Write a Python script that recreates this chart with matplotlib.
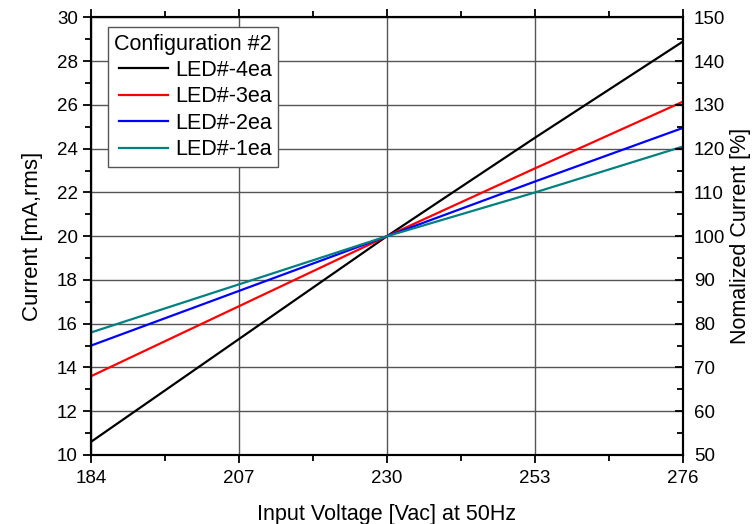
import matplotlib.pyplot as plt
from matplotlib.ticker import MultipleLocator

plt.rcParams['font.family'] = ['Liberation Sans', 'DejaVu Sans']

# input voltage points
voltage = [184, 207, 230, 253, 276]

# current for each LED configuration [mA,rms]
led4 = [10.6, 15.3, 20.0, 24.5, 28.9]
led3 = [13.6, 16.8, 20.0, 23.1, 26.15]
led2 = [15.0, 17.5, 20.0, 22.5, 24.95]
led1 = [15.6, 17.8, 20.0, 22.0, 24.1]

labels = ['LED#-4ea', 'LED#-3ea', 'LED#-2ea', 'LED#-1ea']
colors = ['#000000', '#ff0000', '#0000ff', '#008080']
x_ticks = [184, 207, 230, 253, 276]

fig = plt.figure(figsize=(7.55, 5.24), dpi=100)
ax = fig.add_axes([0.1205, 0.1317, 0.784, 0.835])

for y, lab, c in zip([led4, led3, led2, led1], labels, colors):
    ax.plot(voltage, y, color=c, lw=1.6, label=lab)

ax.set_xlim(184, 276)
ax.set_ylim(10, 30)
ax.set_xticks(x_ticks)
ax.xaxis.set_minor_locator(MultipleLocator(11.5))
ax.yaxis.set_major_locator(MultipleLocator(2))
ax.yaxis.set_minor_locator(MultipleLocator(1))
ax.grid(True, which='major', color='#555555', lw=1.0)
ax.tick_params(axis='both', which='major', direction='out', length=6, width=1.3, labelsize=13.5)
ax.tick_params(axis='both', which='minor', direction='out', length=4, width=1.3)
ax.tick_params(axis='x', top=True, which='both')
ax.tick_params(axis='x', which='major', pad=5)
ax.tick_params(axis='y', right=False, which='both')
ax.set_xlabel('Input Voltage [Vac] at 50Hz', fontsize=15.5, labelpad=12)
ax.set_ylabel('Current [mA,rms]', fontsize=16, labelpad=10)
for s in ax.spines.values():
    s.set_linewidth(1.5)

# right axis: normalized current
ax2 = ax.twinx()
ax2.set_ylim(50, 150)
ax2.yaxis.set_major_locator(MultipleLocator(10))
ax2.yaxis.set_minor_locator(MultipleLocator(5))
ax2.tick_params(axis='y', which='major', direction='in', length=6, width=1.3, labelsize=13.5, pad=8)
ax2.tick_params(axis='y', which='minor', direction='in', length=4, width=1.3)
ax2.set_ylabel('Nomalized Current [%]', fontsize=15.5, labelpad=3)
for s in ax2.spines.values():
    s.set_linewidth(1.5)

leg = ax.legend(title='Configuration #2', loc='upper left', bbox_to_anchor=(0.028, 0.978),
                fontsize=15.5, title_fontsize=15.5, fancybox=False, framealpha=1,
                edgecolor='#555555', handlelength=2.3, borderpad=0.3, labelspacing=0.25,
                handletextpad=0.3, borderaxespad=0)
leg.get_frame().set_linewidth(1.0)
leg._legend_box.align = 'right'

fig.savefig('out.png', dpi=100)
